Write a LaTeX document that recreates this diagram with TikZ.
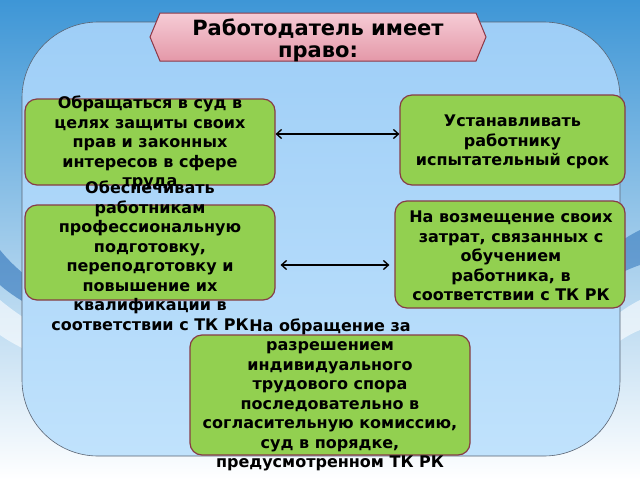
\documentclass[tikz,border=0pt]{standalone}
\usepackage{fontspec}
\setmainfont{DejaVu Sans}
\usetikzlibrary{arrows.meta}
\definecolor{slideblue}{RGB}{62,150,214}
\definecolor{slidemid}{RGB}{140,200,238}
\definecolor{swooshblue}{RGB}{20,95,175}
\definecolor{paneltop}{RGB}{158,206,247}
\definecolor{panelbot}{RGB}{192,226,252}
\definecolor{paneledge}{RGB}{90,100,115}
\definecolor{boxgreen}{RGB}{146,208,80}
\definecolor{boxedge}{RGB}{135,60,70}
\definecolor{bannertop}{RGB}{246,204,214}
\definecolor{bannerbot}{RGB}{228,152,168}
\definecolor{banneredge}{RGB}{140,55,70}

\begin{document}
\begin{tikzpicture}[x=1pt,y=-1pt,
    greenbox/.style={draw=boxedge,fill=boxgreen,line width=1.2pt,rounded corners=12pt,inner sep=0pt},
    boxtext/.style={align=center,inner sep=0pt,font=\bfseries\fontsize{16}{19.5}\selectfont},
    pairarrow/.style={{Straight Barb[length=5pt,width=9pt]}-{Straight Barb[length=5pt,width=9pt]},line width=1.3pt,black},
    arrowshade/.style={pairarrow,draw=gray!70,opacity=0.7,xshift=2pt,yshift=-3pt}]
  % slide background
  \shade[top color=slideblue,middle color=slidemid,bottom color=white] (0,0) rectangle (640,480);
  \fill[swooshblue,opacity=0.5] (0,250) .. controls (40,300) and (120,330) .. (200,340)
      .. controls (120,345) and (40,320) .. (0,285) -- cycle;
  \fill[white,opacity=0.6] (0,300) .. controls (60,350) and (140,370) .. (220,372)
      .. controls (140,385) and (50,370) .. (0,335) -- cycle;
  \fill[swooshblue,opacity=0.45] (640,230) .. controls (600,250) and (560,290) .. (540,360)
      .. controls (570,300) and (610,275) .. (640,265) -- cycle;
  \fill[white,opacity=0.6] (640,300) .. controls (600,320) and (570,360) .. (555,420)
      .. controls (585,365) and (615,340) .. (640,330) -- cycle;
  % panel
  \shade[top color=paneltop,bottom color=panelbot,draw=paneledge,line width=0.6pt,rounded corners=76pt]
      (22,22) rectangle (620,456);
  % banner
  \shade[top color=bannertop,bottom color=bannerbot,draw=banneredge,line width=1pt]
      (150,37) -- (160,13) -- (476,13) -- (486,37) -- (476,61) -- (160,61) -- cycle;
  \node[align=center,inner sep=0pt,font=\bfseries\fontsize{21}{22}\selectfont] (title) at (318,40)
      {Работодатель имеет\\право:};
  % boxes
  \node[greenbox,minimum width=250pt,minimum height=86pt] (boxA) at (150,142) {};
  \node[boxtext] (textA) at (150,143) {Обращаться в суд в\\целях защиты своих\\прав и законных\\интересов в сфере\\труда};
  \node[greenbox,minimum width=225pt,minimum height=90pt] (boxB) at (512.5,140) {};
  \node[boxtext] (textB) at (512.5,142) {Устанавливать\\работнику\\испытательный срок};
  \node[greenbox,minimum width=250pt,minimum height=95pt] (boxC) at (150,252.5) {};
  \node[boxtext] (textC) at (150,256) {Обеспечивать\\работникам\\профессиональную\\подготовку,\\переподготовку и\\повышение их\\квалификации в\\соответствии с ТК РК};
  \node[greenbox,minimum width=230pt,minimum height=107pt] (boxD) at (510,254.5) {};
  \node[boxtext] (textD) at (511,256) {На возмещение своих\\затрат, связанных с\\обучением\\работника, в\\соответствии с ТК РК};
  \node[greenbox,minimum width=280pt,minimum height=120pt] (boxE) at (330,395) {};
  \node[boxtext] (textE) at (330,395) {На обращение за\\разрешением\\индивидуального\\трудового спора\\последовательно в\\согласительную комиссию,\\суд в порядке,\\предусмотренном ТК РК};
  % arrows
  \coordinate (topL) at ([yshift=8pt]boxA.east);
  \coordinate (topR) at (topL -| boxB.west);
  \coordinate (botL) at ([xshift=5pt,yshift=-12.5pt]boxC.east);
  \path (botL -| boxD.west) ++(-5,0) coordinate (botR);
  \draw[arrowshade] (topL) -- (topR);
  \draw[pairarrow] (topL) -- (topR);
  \draw[arrowshade] (botL) -- (botR);
  \draw[pairarrow] (botL) -- (botR);
\end{tikzpicture}
\end{document}
